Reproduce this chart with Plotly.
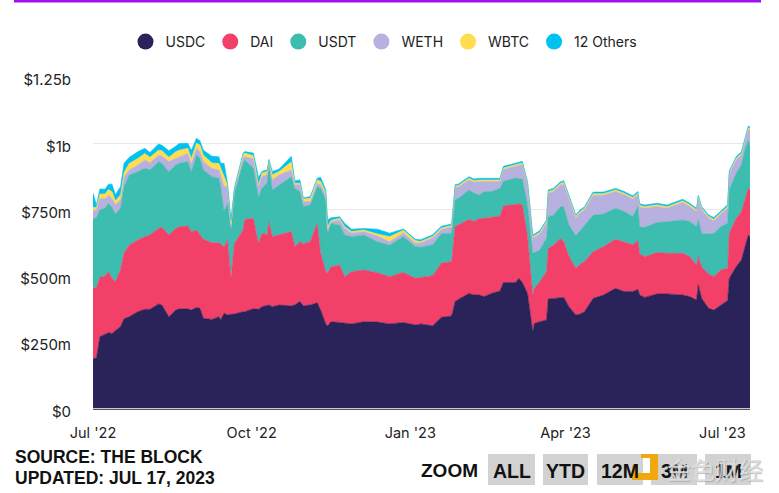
import pandas as pd
import plotly.graph_objects as go

START = pd.Timestamp("2022-07-01")
days = [0,2,4,7,9,11,13,16,18,21,26,30,33,38,40,44,48,50,55,57,60,62,64,69,73,74,76,78,80,82,87,88,93,96,98,101,102,104,108,115,117,120,122,126,130,132,135,136,138,143,146,150,157,165,172,180,187,
190,197,202,208,210,212,218,221,224,227,231,236,238,245,247,249,252,255,256,259,263,264,267,271,273,276,280,282,285,290,296,303,308,313,316,317,320,327,333,342,346,350,351,353,357,360,364,368,369,373,376,378,380,381]
usdc = [189,190,271,281,286,283,294,309,338,346,365,374,374,394,390,346,371,376,376,371,381,378,340,336,346,334,359,353,355,356,365,365,376,374,384,387,390,384,390,387,390,403,387,390,399,371,319,311,327,324,321,319,327,326,319,324,315,
319,312,344,349,403,412,434,428,428,422,434,443,475,475,491,475,434,290,321,327,334,413,415,419,419,384,353,355,365,415,428,453,441,441,449,428,419,432,432,428,422,409,466,415,378,371,390,407,491,535,560,610,654,648]
dai = [266,265,224,219,230,207,185,214,248,270,270,274,280,285,293,308,308,309,312,295,292,277,298,289,279,287,249,283,136,266,308,348,341,246,277,268,314,264,264,280,220,226,234,239,299,214,197,201,207,217,176,197,195,186,178,189,176,
175,189,204,205,283,280,279,277,289,295,287,283,289,293,280,293,214,138,132,151,182,191,201,222,210,189,176,186,189,176,182,185,185,176,184,155,153,156,153,157,151,132,107,119,129,126,132,122,170,182,182,176,176,176]
usdt = [259,265,254,255,258,268,254,233,251,264,258,258,245,251,241,239,239,239,243,226,283,289,261,249,243,216,135,138,182,191,251,224,189,176,170,195,220,176,189,207,220,189,141,138,138,245,270,148,163,151,157,132,132,117,119,136,119,
114,116,111,107,101,101,111,107,88,101,97,104,92,101,97,97,119,157,135,119,126,119,113,119,132,119,122,126,138,138,123,117,117,107,128,101,111,113,119,126,132,145,138,126,151,163,163,170,163,170,176,189,182,163]
weth = [34,28,44,35,31,34,35,31,35,19,25,31,28,25,28,38,25,25,31,31,25,25,31,31,31,44,94,63,13,10,19,13,34,40,44,31,6,38,38,25,13,25,19,13,13,13,19,13,6,19,25,13,13,21,13,13,13,
16,26,16,23,45,42,38,41,51,38,38,26,45,45,51,55,76,57,58,61,57,89,89,82,86,101,67,67,57,75,71,63,63,66,45,76,72,61,51,66,57,57,81,89,60,48,48,57,60,51,38,32,41,63]
wbtc = [10,10,16,19,21,25,15,19,18,25,25,25,20,19,20,16,25,25,19,19,19,25,25,21,25,25,38,6,10,4,13,13,13,6,13,13,4,19,13,31,6,6,9,13,13,13,9,10,6,6,6,6,6,8,19,10,10,
6,6,6,6,6,6,6,6,6,6,6,6,6,6,6,6,6,6,6,6,6,6,6,6,6,6,6,6,6,6,6,6,6,6,6,6,6,6,6,6,6,6,6,6,6,6,6,6,6,6,6,6,6,6]
others = [55,9,19,18,20,29,23,31,35,23,25,19,18,23,21,25,21,25,19,31,19,16,19,25,25,19,50,6,15,5,6,6,10,29,6,6,5,13,9,21,10,13,4,6,6,16,10,28,10,6,13,9,6,18,13,5,5,
6,6,6,6,6,6,6,6,6,6,6,6,6,6,6,6,6,6,6,6,6,6,6,6,6,6,6,6,6,6,6,6,6,6,6,6,6,6,6,6,6,6,6,6,6,6,6,6,6,6,6,6,6,6]

names = ["USDC", "DAI", "USDT", "WETH", "WBTC", "12 Others"]
colors = ["#2a2359", "#f24069", "#3dbcb0", "#b8b0de", "#ffdc50", "#00c2f0"]
series = [usdc, dai, usdt, weth, wbtc, others]
ytick_vals = [0, 250, 500, 750, 1000, 1250]
ytick_text = ["$0", "$250m", "$500m", "$750m", "$1b", "$1.25b"]
xtick_vals = ["2022-07-01", "2022-10-01", "2023-01-01", "2023-04-01", "2023-07-01"]
xtick_text = ["Jul '22", "Oct '22", "Jan '23", "Apr '23", "Jul '23"]
buttons = ["ALL", "YTD", "12M", "3M", "1M"]

W, H = 779, 493
dates = [START + pd.Timedelta(days=d) for d in days]
fig = go.Figure()
for n, c, s in zip(names, colors, series):
    fig.add_trace(go.Scatter(x=dates, y=s, name=n, stackgroup="a", mode="lines",
                             line=dict(color=c, width=0.6), fillcolor=c, showlegend=False,
                             hoverinfo="skip"))
for n, c in zip(names, colors):
    fig.add_trace(go.Scatter(x=[None], y=[None], name=n, mode="markers",
                             marker=dict(color=c, size=17)))

def px(x): return x / W
def py(y): return 1 - y / H

shapes = [dict(type="rect", xref="paper", yref="paper", x0=px(14), x1=px(761), y0=py(2.5), y1=py(0),
               fillcolor="#a010f0", line_width=0, layer="above")]
annotations = [
    dict(text="<b>SOURCE: THE BLOCK</b>", x=px(12.5), y=py(457), xanchor="left", yanchor="middle",
         font=dict(family="Liberation Sans", size=17.5, color="#111")),
    dict(text="<b>UPDATED: JUL 17, 2023</b>", x=px(12.5), y=py(478), xanchor="left", yanchor="middle",
         font=dict(family="Liberation Sans", size=17.5, color="#111")),
    dict(text="<b>ZOOM</b>", x=px(480), y=py(470), xanchor="right", yanchor="middle",
         font=dict(family="Liberation Sans", size=19, color="#111")),
]
for label, x0, x1 in zip(buttons, [488, 543, 597, 651, 705], [535, 588, 643, 697, 751]):
    shapes.append(dict(type="rect", xref="paper", yref="paper", x0=px(x0), x1=px(x1), y0=py(485), y1=py(454),
                       fillcolor="#d2d2d2", line_width=0, layer="below"))
    annotations.append(dict(text=f"<b>{label}</b>", x=px((x0 + x1) / 2), y=py(471), xanchor="center",
                            yanchor="middle", font=dict(family="Liberation Sans", size=19.5, color="#111")))
# repost watermark lying over the zoom buttons, as in the reference
annotations.append(dict(text="金色财经", x=px(715), y=py(468), xanchor="center", yanchor="middle",
                        font=dict(family="Noto Sans CJK SC", size=24, color="rgba(225,225,225,0.88)",
                                  shadow="1px 1px 1px rgba(150,150,150,0.7)")))
for x0, x1, y0, y1 in [(641, 658, 454, 458), (650, 658, 454, 480), (632, 658, 473, 480), (632, 638, 465, 473)]:
    shapes.append(dict(type="rect", xref="paper", yref="paper", x0=px(x0), x1=px(x1), y0=py(y1), y1=py(y0),
                       fillcolor="#f0a80f", line_width=0, layer="above"))
annotations = [dict(a, xref="paper", yref="paper", showarrow=False) for a in annotations]

fig.update_layout(
    width=W, height=H, margin=dict(l=0, r=0, t=0, b=0, autoexpand=False), paper_bgcolor="white", plot_bgcolor="white",
    font=dict(family="Inter", size=14.5, color="#222"),
    legend=dict(orientation="h", x=px(384), xanchor="center", y=py(42), yanchor="middle", traceorder="normal",
                font=dict(family="Inter", size=14, color="#222"), bgcolor="rgba(0,0,0,0)"),
    xaxis=dict(domain=[px(93), px(750)], range=[START, START + pd.Timedelta(days=381)], type="date",
               tickmode="array", tickvals=xtick_vals, ticktext=xtick_text, showgrid=False, automargin=False,
               showline=True, linecolor="#555", linewidth=1, ticks="", ticklabelstandoff=11,
               tickfont=dict(family="Inter", size=14.5, color="#222")),
    yaxis=dict(domain=[py(408.5), py(77)], range=[0, 1250], tickmode="array", tickvals=ytick_vals, automargin=False,
               ticktext=ytick_text, gridcolor="#e8e8e8", gridwidth=1, zeroline=False, showline=False,
               ticks="", ticklabelstandoff=21, ticklabelshift=3, tickfont=dict(family="Inter", size=15, color="#222")),
    shapes=shapes, annotations=annotations,
)
fig.write_html("out.html", config=dict(displayModeBar=False), post_script="document.body.style.margin='0';")
